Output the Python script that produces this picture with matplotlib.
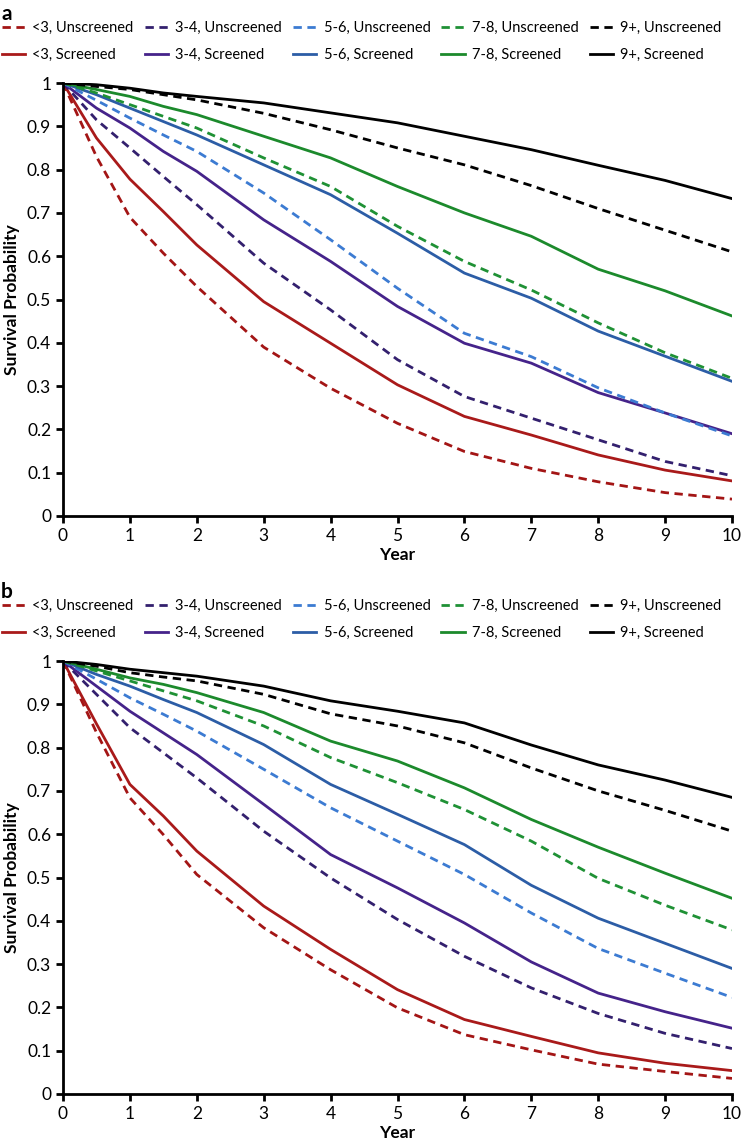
import matplotlib.pyplot as plt

plt.rcParams['font.family'] = ['Lato', 'DejaVu Sans']

years = [0, 0.5, 1, 1.5, 2, 3, 4, 5, 6, 7, 8, 9, 10]
groups = ['<3', '3-4', '5-6', '7-8', '9+']
colors_unscr = ['#A31515', '#33206E', '#3C7BD2', '#1F9135', '#000000']
colors_scr = ['#A91A1A', '#45238A', '#2C5DA6', '#1C8A2C', '#000000']

# panel a
a_unscreened = [
    [1, 0.83, 0.69, 0.607, 0.53, 0.39, 0.295, 0.214, 0.149, 0.11, 0.079, 0.054, 0.039],
    [1, 0.915, 0.85, 0.784, 0.719, 0.584, 0.476, 0.361, 0.276, 0.226, 0.176, 0.126, 0.093],
    [1, 0.96, 0.919, 0.88, 0.842, 0.746, 0.638, 0.526, 0.422, 0.368, 0.296, 0.238, 0.185],
    [1, 0.977, 0.95, 0.923, 0.896, 0.827, 0.761, 0.669, 0.588, 0.522, 0.446, 0.377, 0.318],
    [1, 0.992, 0.985, 0.973, 0.961, 0.93, 0.892, 0.85, 0.811, 0.763, 0.71, 0.66, 0.61],
]
a_screened = [
    [1, 0.873, 0.778, 0.703, 0.626, 0.495, 0.399, 0.303, 0.23, 0.187, 0.141, 0.106, 0.081],
    [1, 0.942, 0.896, 0.842, 0.796, 0.684, 0.588, 0.484, 0.399, 0.353, 0.285, 0.238, 0.19],
    [1, 0.973, 0.942, 0.911, 0.88, 0.811, 0.742, 0.653, 0.561, 0.503, 0.427, 0.369, 0.311],
    [1, 0.985, 0.969, 0.946, 0.927, 0.877, 0.827, 0.761, 0.70, 0.646, 0.57, 0.52, 0.462],
    [1, 0.996, 0.988, 0.977, 0.969, 0.954, 0.931, 0.908, 0.877, 0.846, 0.81, 0.775, 0.733],
]

# panel b
b_unscreened = [
    [1, 0.835, 0.684, 0.599, 0.507, 0.384, 0.287, 0.199, 0.137, 0.102, 0.069, 0.052, 0.036],
    [1, 0.923, 0.846, 0.788, 0.73, 0.607, 0.499, 0.403, 0.318, 0.245, 0.186, 0.14, 0.105],
    [1, 0.958, 0.915, 0.877, 0.838, 0.75, 0.661, 0.584, 0.507, 0.418, 0.336, 0.279, 0.223],
    [1, 0.977, 0.954, 0.931, 0.908, 0.85, 0.777, 0.719, 0.657, 0.584, 0.498, 0.436, 0.379],
    [1, 0.988, 0.973, 0.963, 0.954, 0.923, 0.878, 0.85, 0.811, 0.753, 0.70, 0.655, 0.607],
]
b_screened = [
    [1, 0.855, 0.715, 0.642, 0.561, 0.434, 0.334, 0.241, 0.172, 0.133, 0.095, 0.071, 0.054],
    [1, 0.942, 0.884, 0.834, 0.784, 0.669, 0.553, 0.476, 0.395, 0.305, 0.233, 0.19, 0.152],
    [1, 0.969, 0.942, 0.911, 0.881, 0.807, 0.715, 0.646, 0.576, 0.482, 0.406, 0.348, 0.29],
    [1, 0.981, 0.961, 0.946, 0.927, 0.881, 0.815, 0.769, 0.707, 0.634, 0.57, 0.51, 0.452],
    [1, 0.992, 0.981, 0.973, 0.965, 0.942, 0.908, 0.884, 0.857, 0.806, 0.76, 0.725, 0.685],
]

yticks = [0, 0.1, 0.2, 0.3, 0.4, 0.5, 0.6, 0.7, 0.8, 0.9, 1]
ytick_labels = ['0', '0.1', '0.2', '0.3', '0.4', '0.5', '0.6', '0.7', '0.8', '0.9', '1']
xticks = list(range(11))

fig = plt.figure(figsize=(7.42, 11.47), dpi=100)
W, H = 742, 1147


def draw_panel(top_px, bottom_px, unscreened, screened, letter, leg_y_px):
    ax = fig.add_axes([63 / W, 1 - bottom_px / H, 669 / W, (bottom_px - top_px) / H])
    handles = []
    for i, g in enumerate(groups):
        l1, = ax.plot(years, unscreened[i], color=colors_unscr[i], lw=2,
                      linestyle=(0, (3, 2)), label=g + ', Unscreened')
        l2, = ax.plot(years, screened[i], color=colors_scr[i], lw=2,
                      label=g + ', Screened')
        handles += [l1, l2]
    ax.set_xlim(0, 10)
    ax.set_ylim(0, 1)
    ax.set_xticks(xticks)
    ax.set_yticks(yticks)
    ax.set_yticklabels(ytick_labels)
    for s in ['top', 'right']:
        ax.spines[s].set_visible(False)
    for s in ['left', 'bottom']:
        ax.spines[s].set_linewidth(2)
    ax.tick_params(width=2, length=5, labelsize=12.5, direction='out')
    ax.set_xlabel('Year', fontsize=12.5, fontweight='bold', labelpad=2)
    ax.set_ylabel('Survival Probability', fontsize=12.5, fontweight='bold', labelpad=5)
    fig.text(1 / W, 1 - (top_px - 69) / H, letter, fontsize=15, fontweight='bold',
             va='center', ha='left')
    fig.legend(handles=handles, loc='upper left', ncol=5, frameon=False,
               bbox_to_anchor=(-4 / W, 1 - leg_y_px / H), fontsize=10.5,
               handlelength=1.6, handletextpad=0.5, columnspacing=0.75,
               labelspacing=0.9, borderaxespad=0)
    return ax


draw_panel(83, 516, a_unscreened, a_screened, 'a', 15)
draw_panel(661, 1094, b_unscreened, b_screened, 'b', 593)

fig.savefig('out.png', dpi=100)
